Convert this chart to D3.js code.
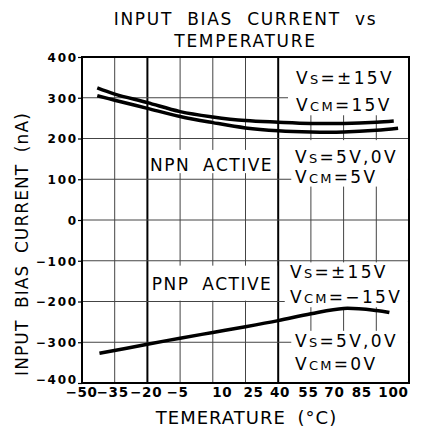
<!DOCTYPE html>
<html><head><meta charset="utf-8">
<script src="https://cdn.jsdelivr.net/npm/d3@7"></script>
<style>
html,body{margin:0;padding:0;background:#fff;}
svg text{font-family:"DejaVu Sans",sans-serif;fill:#000;}
</style></head>
<body><svg id="c" width="422" height="441"></svg>
<script>
// ---- data ----
const xTicks = [-50,-35,-20,-5,10,25,40,55,70,85,100];
const yTicks = [-400,-300,-200,-100,0,100,200,300,400];
const xTickLabels = ["−50","−35","−20","−5","10","25","40","55","70","85","100"];
const yTickLabels = ["−400","−300","−200","−100","0","100","200","300","400"];
const npn15Temp = [-43,-35,-20,-5,10,25,40,55,70,85,93];
const npn15Val  = [324,309,288,266,253,244,240,237,237,240,243];
const npn5Temp  = [-43,-35,-20,-5,10,25,40,55,70,85,95];
const npn5Val   = [305,294,274,254,239,226,219,216,216,220,225];
const pnpTemp   = [-42,-20,-5,10,25,40,55,70,85,91];
const pnpVal    = [-327,-305,-290,-276,-262,-247,-230,-217,-222,-227];
const titleLines = ["INPUT BIAS CURRENT vs","TEMPERATURE"];
const xTitle = "TEMERATURE (°C)";
const yTitle = "INPUT BIAS CURRENT (nA)";

// ---- layout ----
const L=82, R=409, T=57, B=383;
const svg = d3.select("#c");
const x = d3.scaleLinear().domain([-50,100]).range([L,R]);
const y = d3.scaleLinear().domain([-400,400]).range([B,T]);

// grid
const g = svg.append("g");
g.selectAll("line.v").data(xTicks.slice(1,-1)).enter().append("line")
 .attr("x1",d=>x(d)).attr("x2",d=>x(d)).attr("y1",T).attr("y2",B)
 .attr("stroke",d=>(d===-20||d===40)?"#000":"#444")
 .attr("stroke-width",d=>(d===-20||d===40)?2:1);
g.selectAll("line.h").data(yTicks.slice(1,-1)).enter().append("line")
 .attr("x1",L).attr("x2",R).attr("y1",d=>y(d)).attr("y2",d=>y(d))
 .attr("stroke","#444").attr("stroke-width",1);

// annotation boxes (white backgrounds hiding the grid)
const boxes = [
  {t0:44.5,t1:100,v0:400,v1:257},
  {t0:-19,t1:39.5,v0:172,v1:115},
  {t0:46,t1:99.5,v0:196,v1:82},
  {t0:-19,t1:39.5,v0:-112,v1:-198},
  {t0:43,t1:99.5,v0:-104,v1:-214},
  {t0:46,t1:99.5,v0:-272,v1:-400}
];
g.selectAll("rect.box").data(boxes).enter().append("rect")
 .attr("x",d=>x(d.t0)).attr("y",d=>y(d.v0))
 .attr("width",d=>x(d.t1)-x(d.t0)).attr("height",d=>y(d.v1)-y(d.v0))
 .attr("fill","#fff");

// axes frame
svg.append("rect").attr("x",L).attr("y",T).attr("width",R-L).attr("height",B-T)
 .attr("fill","none").attr("stroke","#000").attr("stroke-width",2);

// y axis ticks + labels
const yAxis = d3.axisLeft(y).tickValues(yTicks).tickSize(4)
 .tickFormat((d,i)=>yTickLabels[i]);
const ya = svg.append("g").attr("transform",`translate(${L},0)`).call(yAxis);
ya.select(".domain").remove();
ya.selectAll("line").attr("stroke","#000").attr("stroke-width",1.2);
ya.selectAll("text").attr("font-family","DejaVu Sans").attr("font-size",12)
 .attr("font-weight","bold").attr("letter-spacing",1.8).attr("x",-4)
 .attr("dy",(d)=>d===-400?"0.05em":"0.36em");

// x axis labels
const xNudge = [-1,-2.5,-1.7,-3,9,7.5,1.3,-3,-9.7,-15,-16];
const xAxis = d3.axisBottom(x).tickValues(xTicks).tickSize(0)
 .tickFormat((d,i)=>xTickLabels[i]);
const xa = svg.append("g").attr("transform",`translate(0,${B})`).call(xAxis);
xa.select(".domain").remove();
xa.selectAll("text").attr("font-family","DejaVu Sans").attr("font-size",13.5)
 .attr("font-weight","bold").attr("letter-spacing",0.7)
 .attr("y",14).attr("dy",0)
 .attr("dx",(d,i)=>xNudge[i]);

// annotations
function label(t,v,parts){
  const tx = svg.append("text").attr("x",x(t)).attr("y",y(v))
    .attr("font-size",17).attr("letter-spacing",2.3);
  parts.forEach(p=>{
    const ts = tx.append("tspan").text(p[0]);
    if(p[1]) ts.attr("font-size",13);
  });
  return tx;
}
label(48.2,333.7,[["V"],["S",1],["=±15V"]]);
label(48.2,268.2,[["V"],["CM",1],["=15V"]]);
label(47.7,140,[["V"],["S",1],["=5V,0V"]]);
label(47.7,91,[["V"],["CM",1],["=5V"]]);
label(45.4,-142.3,[["V"],["S",1],["=±15V"]]);
label(45.4,-204.4,[["V"],["CM",1],["=−15V"]]);
label(47.7,-311,[["V"],["S",1],["=5V,0V"]]);
label(47.7,-368,[["V"],["CM",1],["=0V"]]);
svg.append("text").attr("x",x(-18.8)).attr("y",y(121)).attr("font-size",17)
 .attr("letter-spacing",1.5).attr("word-spacing",6).text("NPN ACTIVE");
svg.append("text").attr("x",x(-18)).attr("y",y(-171.8)).attr("font-size",17)
 .attr("letter-spacing",1.5).attr("word-spacing",6).text("PNP ACTIVE");

// curves
const line = d3.line().x(d=>x(d[0])).y(d=>y(d[1])).curve(d3.curveCatmullRom.alpha(0.5));
const series = [
  d3.zip(npn15Temp,npn15Val),
  d3.zip(npn5Temp,npn5Val),
  d3.zip(pnpTemp,pnpVal)
];
svg.selectAll("path.curve").data(series).enter().append("path")
 .attr("d",line).attr("fill","none").attr("stroke","#000").attr("stroke-width",3.5);

// titles
svg.selectAll("text.title").data(titleLines).enter().append("text")
 .attr("x",(L+R)/2).attr("y",(d,i)=>25+i*22).attr("text-anchor","middle")
 .attr("font-size",17).attr("letter-spacing",1.7).attr("word-spacing",7).text(d=>d);
svg.append("text").attr("x",(L+R)/2+1).attr("y",424).attr("text-anchor","middle")
 .attr("font-size",18).attr("letter-spacing",1).attr("word-spacing",5).text(xTitle);
svg.append("text").attr("transform","translate(28,244) rotate(-90)")
 .attr("text-anchor","middle").attr("font-size",17).attr("letter-spacing",1.1)
 .attr("word-spacing",5).text(yTitle);
</script></body></html>
